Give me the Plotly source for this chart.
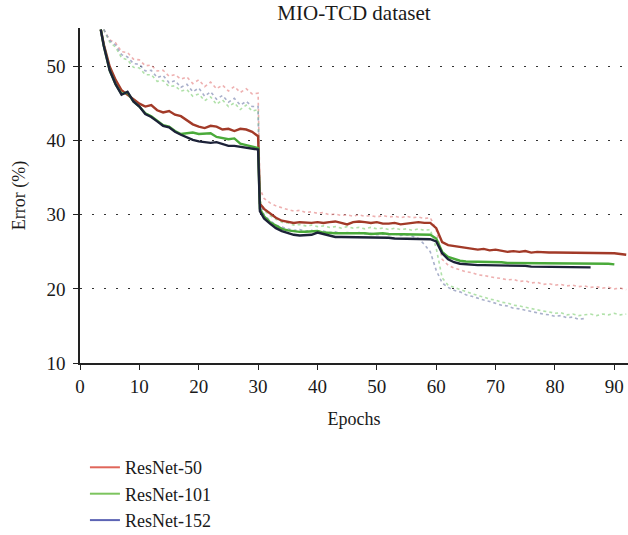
import plotly.graph_objects as go

# ---------------- data ----------------
# epochs for validation (solid) curves
epochs = [3.5, 4, 5, 6, 7, 8, 9, 10, 11, 12, 13, 14, 15, 16, 17, 18, 19, 20, 21, 22,
          23, 24, 25, 26, 27, 28, 29, 30, 30.3, 31, 32, 33, 34, 35, 36, 37, 38, 39, 40,
          41, 42, 43, 44, 45, 46, 47, 48, 49, 50, 51, 52, 53, 54, 55, 56, 57, 58, 59, 60,
          61, 62, 63, 64, 65, 66, 67, 68, 69, 70, 71, 72, 73, 74, 75, 76, 77, 78, 79, 80,
          81, 82, 83, 84, 85, 86, 87, 88, 89, 90, 91, 92]

resnet50_val = [55.0, 53.0, 50.0, 48.2, 46.8, 46.2, 45.6, 45.0, 44.6, 44.8, 44.1, 43.8, 44.0, 43.5,
                43.3, 42.8, 42.2, 41.9, 41.7, 42.0, 41.9, 41.5, 41.6, 41.3, 41.6, 41.5, 41.2, 40.6,
                31.5, 30.8, 30.2, 29.6, 29.2, 29.0, 28.9, 29.0, 28.9, 28.9, 29.0, 28.9, 29.0, 29.1,
                28.9, 28.7, 29.0, 29.1, 29.0, 28.9, 29.0, 28.8, 28.8, 28.9, 28.7, 28.8, 29.0, 29.0,
                28.9, 28.9, 28.2, 26.3, 25.9, 25.8, 25.7, 25.6, 25.5, 25.3, 25.4, 25.2, 25.3, 25.1,
                25.0, 25.1, 25.0, 25.1, 24.9, 25.0, 24.9, 24.9, 24.9, 24.9, 24.8, 24.9, 24.8, 24.8,
                24.8, 24.8, 24.8, 24.8, 24.8, 24.7, 24.6]

resnet101_val = [55.0, 52.8, 49.5, 47.6, 46.3, 46.5, 45.3, 44.6, 43.7, 43.3, 42.7, 42.1, 41.9, 41.3,
                 40.9, 41.0, 41.1, 40.9, 41.0, 41.0, 40.5, 40.4, 40.2, 40.3, 39.6, 39.4, 39.2, 39.0,
                 30.8, 29.8, 29.0, 28.5, 28.1, 27.9, 27.8, 27.7, 27.7, 27.7, 27.8, 27.6, 27.5, 27.5,
                 27.5, 27.5, 27.6, 27.5, 27.5, 27.4, 27.5, 27.5, 27.4, 27.4, 27.4, 27.3, 27.3, 27.4,
                 27.3, 27.3, 26.8, 25.0, 24.3, 24.0, 23.8, 23.7, 23.7, 23.6, 23.6, 23.6, 23.6, 23.6,
                 23.5, 23.5, 23.5, 23.5, 23.5, 23.5, 23.5, 23.5, 23.5, 23.4, 23.4, 23.4, 23.4, 23.4,
                 23.4, 23.4, 23.4, 23.4, 23.3]

resnet152_val = [55.0, 52.8, 49.5, 47.6, 46.2, 46.6, 45.3, 44.6, 43.6, 43.2, 42.6, 42.0, 41.8, 41.2,
                 40.8, 40.4, 40.1, 39.9, 39.8, 39.7, 39.8, 39.5, 39.3, 39.3, 39.2, 39.1, 39.0, 38.8,
                 30.5, 29.5, 28.8, 28.2, 27.8, 27.5, 27.3, 27.2, 27.2, 27.3, 27.6, 27.4, 27.1, 27.0,
                 27.0, 27.0, 27.0, 27.0, 26.9, 26.9, 26.9, 26.9, 26.9, 26.8, 26.8, 26.8, 26.8, 26.7,
                 26.7, 26.7, 26.4, 24.8, 24.0, 23.6, 23.4, 23.3, 23.3, 23.2, 23.2, 23.2, 23.2, 23.1,
                 23.1, 23.1, 23.1, 23.1, 23.0, 23.0, 23.0, 23.0, 23.0, 23.0, 22.9, 22.9, 22.9, 22.9,
                 22.9]

# epochs for training (dotted) curves
epochs_train = [4, 5, 6, 7, 8, 9, 10, 11, 12, 13, 14, 15, 16, 17, 18, 19, 20, 21, 22, 23,
                24, 25, 26, 27, 28, 29, 30, 30.3, 31, 32, 33, 34, 35, 36, 37, 38, 39, 40, 41,
                42, 43, 44, 45, 46, 47, 48, 49, 50, 51, 52, 53, 54, 55, 56, 57, 58, 59, 60, 61,
                62, 63, 64, 65, 66, 67, 68, 69, 70, 71, 72, 73, 74, 75, 76, 77, 78, 79, 80, 81,
                82, 83, 84, 85, 86, 87, 88, 89, 90, 91, 92]

resnet50_train = [55.0, 53.6, 53.2, 52.0, 51.9, 51.0, 50.9, 50.1, 50.2, 49.4, 49.5, 48.7, 48.9, 48.3,
                  48.6, 47.7, 48.2, 47.3, 47.9, 47.0, 47.5, 46.7, 47.3, 46.5, 47.0, 46.3, 46.4, 33.5,
                  32.2, 31.6, 31.2, 30.9, 30.7, 30.5, 30.6, 30.3, 30.4, 30.2, 30.3, 30.0, 30.1, 29.9,
                  30.0, 29.8, 30.0, 29.8, 29.9, 29.7, 29.9, 29.7, 29.8, 29.6, 29.8, 29.6, 29.7, 29.5,
                  29.6, 28.0, 24.0, 23.2, 22.8, 22.6, 22.3, 22.2, 21.9, 21.8, 21.6, 21.5, 21.4, 21.2,
                  21.3, 21.0, 21.1, 20.8, 20.9, 20.6, 20.7, 20.5, 20.6, 20.4, 20.5, 20.3, 20.4, 20.2,
                  20.3, 20.1, 20.2, 20.0, 20.1, 19.9]

resnet101_train = [55.0, 53.3, 52.6, 51.2, 50.9, 49.9, 49.8, 48.9, 48.9, 48.0, 48.1, 47.3, 47.4, 46.7,
                   46.9, 46.0, 46.3, 45.4, 45.9, 44.9, 45.5, 44.6, 45.1, 44.2, 44.8, 44.0, 44.2, 32.0,
                   30.6, 29.9, 29.4, 29.0, 28.9, 28.6, 28.7, 28.5, 28.6, 28.4, 28.5, 28.3, 28.4, 28.2,
                   28.4, 28.2, 28.3, 28.1, 28.3, 28.1, 28.2, 28.0, 28.2, 28.0, 28.1, 27.9, 28.1, 27.9,
                   28.0, 25.5, 21.5, 20.5, 20.2, 19.9, 19.6, 19.4, 19.1, 18.9, 18.6, 18.5, 18.2, 18.1,
                   17.8, 17.7, 17.5, 17.3, 17.2, 17.0, 16.9, 16.7, 16.8, 16.5, 16.6, 16.4, 16.5, 16.6,
                   16.4, 16.6, 16.5, 16.7, 16.5, 16.6]

resnet152_train = [55.0, 53.5, 52.9, 51.6, 51.3, 50.4, 50.3, 49.4, 49.5, 48.5, 48.8, 47.8, 48.1, 47.2,
                   47.6, 46.6, 47.1, 46.0, 46.6, 45.6, 46.1, 45.2, 45.7, 44.8, 45.3, 44.6, 44.6, 31.5,
                   30.0, 29.2, 28.6, 28.3, 28.1, 27.9, 28.0, 27.8, 27.9, 27.7, 27.8, 27.6, 27.7, 27.5,
                   27.6, 27.5, 27.6, 27.4, 27.5, 27.3, 27.4, 27.3, 27.4, 27.2, 27.3, 27.1, 26.8, 26.0,
                   25.0, 22.5, 20.8, 20.2, 19.8, 19.6, 19.2, 19.0, 18.7, 18.5, 18.3, 18.0, 17.8, 17.7,
                   17.4, 17.3, 17.1, 16.9, 16.8, 16.6, 16.5, 16.3, 16.4, 16.1, 16.2, 15.9, 16.0]

series_names = ["ResNet-50", "ResNet-101", "ResNet-152"]
x_ticks = [0, 10, 20, 30, 40, 50, 60, 70, 80, 90]
y_ticks = [10, 20, 30, 40, 50]

# ---------------- figure ----------------
FONT = "Liberation Serif"
fig = go.Figure()

train_colors = ["rgba(232,150,150,0.75)", "rgba(150,215,140,0.75)", "rgba(140,150,185,0.75)"]
for ys, c in zip([resnet50_train, resnet101_train, resnet152_train], train_colors):
    fig.add_trace(go.Scatter(x=epochs_train[:len(ys)], y=ys, mode="lines",
                             line=dict(color=c, width=1.6, dash="dot"),
                             showlegend=False, hoverinfo="skip"))

val_colors = ["#a23a28", "#4aaa3a", "#1c2238"]
for ys, c in zip([resnet50_val, resnet101_val, resnet152_val], val_colors):
    fig.add_trace(go.Scatter(x=epochs[:len(ys)], y=ys, mode="lines",
                             line=dict(color=c, width=2.4),
                             showlegend=False))

legend_colors = ["#e0665a", "#7cc45e", "#5c64b4"]
for name, c in zip(series_names, legend_colors):
    fig.add_trace(go.Scatter(x=[None], y=[None], mode="lines", name=name,
                             line=dict(color=c, width=2)))

fig.update_layout(
    width=628, height=535,
    margin=dict(l=80, r=0, t=28, b=172, autoexpand=False),
    paper_bgcolor="white", plot_bgcolor="white",
    font=dict(family=FONT, size=19, color="#1a1a1a"),
    title=dict(text="MIO-TCD dataset", x=0.5, xref="paper", xanchor="center",
               y=1 - 13 / 535, yanchor="middle", font=dict(family=FONT, size=21, color="#1a1a1a")),
    legend=dict(x=0.009, xanchor="left", y=-0.257, yanchor="top",
                font=dict(family=FONT, size=18, color="#1a1a1a"),
                bgcolor="rgba(0,0,0,0)", tracegroupgap=0),
    showlegend=True,
)

fig.update_xaxes(range=[0, 92.3], tickvals=x_ticks, ticks="outside", ticklen=5,
                 tickwidth=1.2, tickcolor="#222", showline=True, linecolor="#222",
                 linewidth=1.5, showgrid=False, zeroline=False, automargin=False,
                 title=dict(text="Epochs", standoff=17, font=dict(size=18)),
                 tickfont=dict(family=FONT, size=19))
fig.update_yaxes(range=[10, 55.2], tickvals=y_ticks, ticks="outside", ticklen=5,
                 tickwidth=1.2, tickcolor="#222", showline=True, linecolor="#222",
                 linewidth=1.5, showgrid=True, gridcolor="#333", gridwidth=1,
                 griddash="2px,10px", zeroline=False, automargin=False,
                 ticklabelstandoff=4,
                 title=dict(text="Error (%)", standoff=16, font=dict(size=18)),
                 tickfont=dict(family=FONT, size=19))

fig.write_html("out.html", config={"displayModeBar": False},
               post_script="document.body.style.margin='0';document.body.style.padding='0';")
